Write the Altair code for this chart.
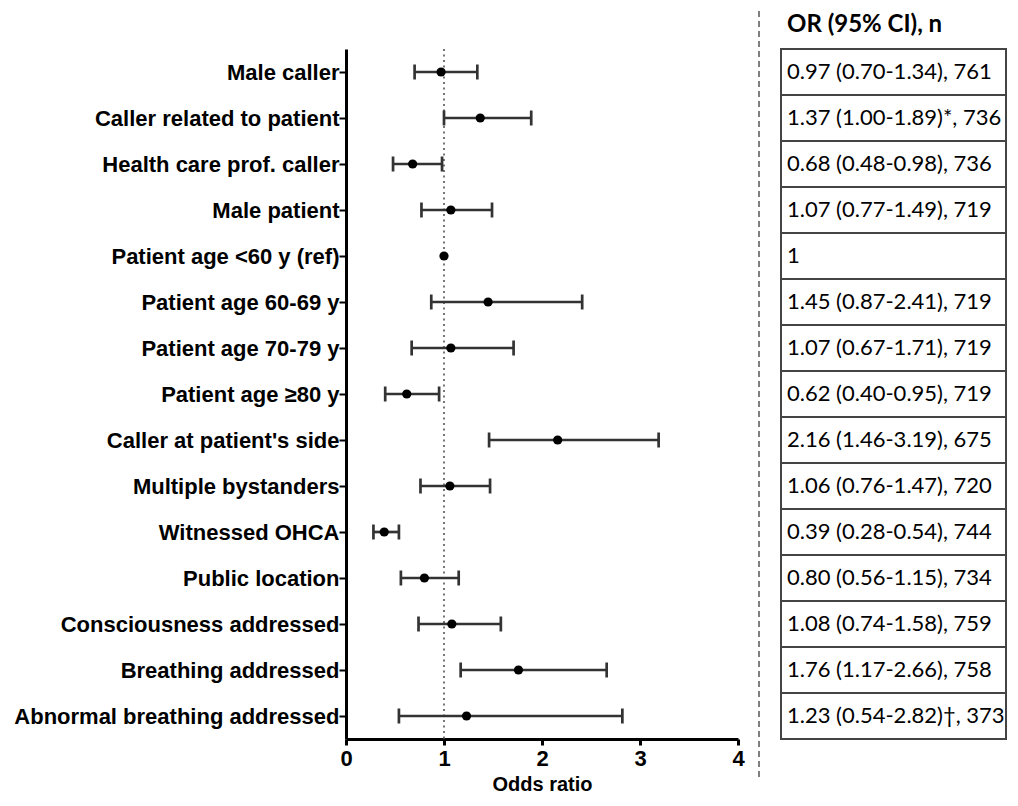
import json
import altair as alt
import pandas as pd

labels = [
    "Male caller",
    "Caller related to patient",
    "Health care prof. caller",
    "Male patient",
    "Patient age <60 y (ref)",
    "Patient age 60-69 y",
    "Patient age 70-79 y",
    "Patient age \u226580 y",
    "Caller at patient's side",
    "Multiple bystanders",
    "Witnessed OHCA",
    "Public location",
    "Consciousness addressed",
    "Breathing addressed",
    "Abnormal breathing addressed",
]
or_vals = [0.97, 1.37, 0.68, 1.07, 1.00, 1.45, 1.07, 0.62, 2.16, 1.06, 0.39, 0.80, 1.08, 1.76, 1.23]
ci_low = [0.70, 1.00, 0.48, 0.77, None, 0.87, 0.67, 0.40, 1.46, 0.76, 0.28, 0.56, 0.74, 1.17, 0.54]
ci_high = [1.34, 1.89, 0.98, 1.49, None, 2.41, 1.71, 0.95, 3.19, 1.47, 0.54, 1.15, 1.58, 2.66, 2.82]
n_vals = [761, 736, 736, 719, None, 719, 719, 719, 675, 720, 744, 734, 759, 758, 373]
notes = ["", "*", "", "", "", "", "", "", "", "", "", "", "", "", "\u2020"]
header = "OR (95% CI), n"
x_ticks = [0, 1, 2, 3, 4]
ref_value = 1.0

table_txt = []
for o, lo, hi, n, nt in zip(or_vals, ci_low, ci_high, n_vals, notes):
    if lo is None:
        table_txt.append(f"{o:g}")
    else:
        table_txt.append(f"{o:.2f} ({lo:.2f}-{hi:.2f}){nt}, {n}")

df = pd.DataFrame({
    "row": list(range(len(labels))),
    "label": labels,
    "or": or_vals,
    "lo": ci_low,
    "hi": ci_high,
    "txt": table_txt,
})

label_expr = "[" + ",".join(json.dumps(l) for l in labels) + "][datum.value]"

yscale = alt.Scale(domain=[-0.5, len(labels) - 0.5], reverse=True, nice=False, zero=False)
xscale = alt.Scale(domain=[0, 4], nice=False, zero=False)

LBL_FONT = "Liberation Sans"
yaxis = alt.Axis(
    values=list(range(len(labels))), labelExpr=label_expr, title=None,
    labelFont=LBL_FONT, labelFontWeight="bold", labelFontSize=22, labelColor="black",
    tickSize=7, tickWidth=2, tickColor="black", domainColor="black", domainWidth=3,
    grid=False, labelPadding=0, labelLimit=600,
)
xaxis = alt.Axis(
    values=x_ticks, format="d", title="Odds ratio",
    titleFont=LBL_FONT, titleFontWeight="bold", titleFontSize=20, titleColor="black",
    labelFont=LBL_FONT, labelFontWeight="bold", labelFontSize=22, labelColor="black",
    tickSize=6, tickWidth=3, tickColor="black", domainColor="black", domainWidth=3,
    grid=False, labelPadding=3, titlePadding=5, labelFlush=False,
)

def X(field):
    return alt.X(field, type="quantitative", scale=xscale, axis=xaxis)

def Y(field):
    return alt.Y(field, type="quantitative", scale=yscale, axis=yaxis)

base = alt.Chart(df)

ref_line = alt.Chart(pd.DataFrame({"ref": [ref_value]})).mark_rule(
    color="#777", strokeWidth=2, strokeDash=[2, 3.5]
).encode(x=X("ref"))

ci = base.transform_filter("isValid(datum.lo)")
err = ci.mark_rule(color="#333", strokeWidth=2.7).encode(x=X("lo"), x2="hi:Q", y=Y("row"))
cap_lo = ci.mark_tick(orient="vertical", color="#333", opacity=1, thickness=2.7, size=15).encode(x=X("lo"), y=Y("row"))
cap_hi = ci.mark_tick(orient="vertical", color="#333", opacity=1, thickness=2.7, size=15).encode(x=X("hi"), y=Y("row"))
pts = base.mark_circle(size=85, color="black", opacity=1).encode(x=X("or"), y=Y("row"))

left = alt.layer(ref_line, err, cap_lo, cap_hi, pts).properties(width=392, height=690)

TBL_FONT = "Lato"
boxes = base.transform_calculate(y0="datum.row - 0.5", y1="datum.row + 0.5").mark_rect(
    fill="white", stroke="#444", strokeWidth=2
).encode(
    x=alt.value(22), x2=alt.value(247),
    y=alt.Y("y0:Q", scale=yscale, axis=None), y2="y1:Q",
)
texts = base.mark_text(align="left", baseline="middle", font=TBL_FONT, fontSize=22, color="black").encode(
    x=alt.value(28), y=alt.Y("row:Q", scale=yscale, axis=None), text="txt:N"
)
head = alt.Chart(pd.DataFrame({"h": [header]})).mark_text(
    align="left", baseline="middle", font=TBL_FONT, fontSize=24, fontWeight="bold", color="black"
).encode(x=alt.value(28), y=alt.value(-24), text="h:N")
dash = alt.Chart(pd.DataFrame({"a": [0]})).mark_rule(
    color="#555", strokeWidth=1.5, strokeDash=[6, 4]
).encode(x=alt.value(0), y=alt.value(-38), y2=alt.value(730))

right = alt.layer(dash, boxes, texts, head).properties(width=248, height=690)

chart = alt.hconcat(left, right, spacing=13).properties(
    padding={"left": 5, "top": 2, "right": 0, "bottom": 0}
).configure(background="white").configure_view(stroke=None, strokeWidth=0)

chart.save("out.html", embed_options={"renderer": "svg", "actions": False})
